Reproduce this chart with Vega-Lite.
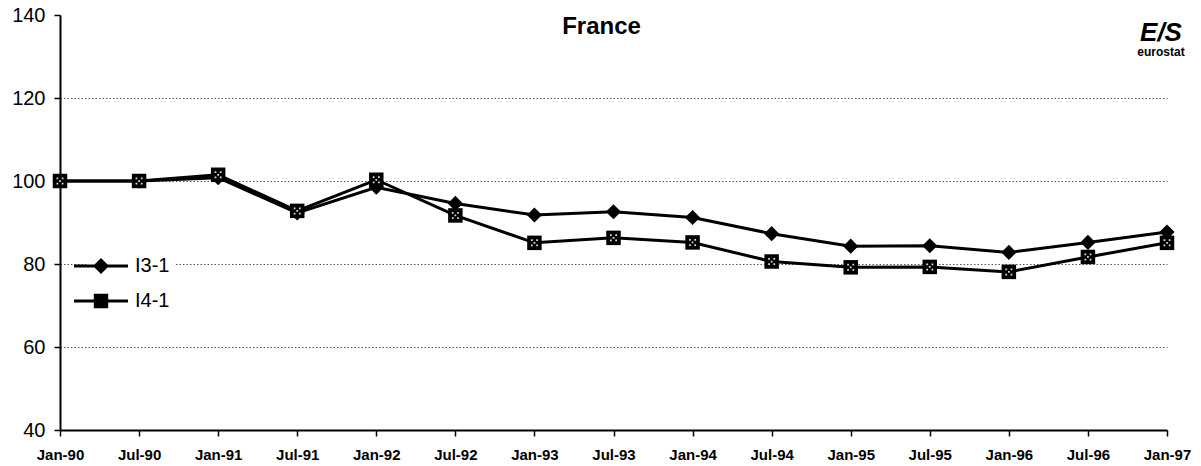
{
  "$schema": "https://vega.github.io/schema/vega-lite/v6.json",
  "autosize": {"type": "none"},
  "padding": {"left": 60, "top": 15, "right": 34, "bottom": 36},
  "width": 1107,
  "height": 415,
  "background": "white",
  "title": {
    "text": "France",
    "font": "Liberation Sans",
    "fontSize": 24,
    "fontWeight": "bold",
    "color": "black",
    "anchor": "middle",
    "baseline": "middle",
    "dx": -12,
    "offset": -14,
    "dy": 32
  },
  "config": {
    "view": {"stroke": null},
    "font": "Liberation Sans"
  },
  "data": {
    "values": [
      {"period": "Jan-90", "series": "I3-1", "value": 100},
      {"period": "Jul-90", "series": "I3-1", "value": 100},
      {"period": "Jan-91", "series": "I3-1", "value": 100.8},
      {"period": "Jul-91", "series": "I3-1", "value": 92.3},
      {"period": "Jan-92", "series": "I3-1", "value": 98.5},
      {"period": "Jul-92", "series": "I3-1", "value": 94.6},
      {"period": "Jan-93", "series": "I3-1", "value": 91.8},
      {"period": "Jul-93", "series": "I3-1", "value": 92.6},
      {"period": "Jan-94", "series": "I3-1", "value": 91.2},
      {"period": "Jul-94", "series": "I3-1", "value": 87.3},
      {"period": "Jan-95", "series": "I3-1", "value": 84.3},
      {"period": "Jul-95", "series": "I3-1", "value": 84.4},
      {"period": "Jan-96", "series": "I3-1", "value": 82.8},
      {"period": "Jul-96", "series": "I3-1", "value": 85.2},
      {"period": "Jan-97", "series": "I3-1", "value": 87.7},
      {"period": "Jan-90", "series": "I4-1", "value": 100},
      {"period": "Jul-90", "series": "I4-1", "value": 100},
      {"period": "Jan-91", "series": "I4-1", "value": 101.5},
      {"period": "Jul-91", "series": "I4-1", "value": 92.8},
      {"period": "Jan-92", "series": "I4-1", "value": 100.3},
      {"period": "Jul-92", "series": "I4-1", "value": 91.7},
      {"period": "Jan-93", "series": "I4-1", "value": 85.1},
      {"period": "Jul-93", "series": "I4-1", "value": 86.3},
      {"period": "Jan-94", "series": "I4-1", "value": 85.2},
      {"period": "Jul-94", "series": "I4-1", "value": 80.6},
      {"period": "Jan-95", "series": "I4-1", "value": 79.2},
      {"period": "Jul-95", "series": "I4-1", "value": 79.3},
      {"period": "Jan-96", "series": "I4-1", "value": 78.1},
      {"period": "Jul-96", "series": "I4-1", "value": 81.7},
      {"period": "Jan-97", "series": "I4-1", "value": 85.1}
    ]
  },
  "encoding": {
    "x": {
      "field": "period",
      "type": "ordinal",
      "sort": null,
      "scale": {"type": "point", "padding": 0},
      "axis": {
        "title": null,
        "labelAngle": 0,
        "labelFont": "Liberation Sans",
        "labelFontSize": 15,
        "labelFontWeight": "bold",
        "labelColor": "black",
        "labelPadding": 11,
        "domainColor": "black",
        "domainWidth": 2,
        "tickColor": "black",
        "tickWidth": 1.5,
        "tickSize": 6,
        "grid": false
      }
    },
    "y": {
      "field": "value",
      "type": "quantitative",
      "scale": {"domain": [40, 140], "nice": false, "zero": false},
      "axis": {
        "title": null,
        "values": [40, 60, 80, 100, 120, 140],
        "labelFont": "Liberation Sans",
        "labelFontSize": 20,
        "labelColor": "black",
        "labelPadding": 9,
        "domainColor": "black",
        "domainWidth": 2,
        "tickColor": "black",
        "tickWidth": 1.5,
        "tickSize": 6,
        "grid": true,
        "gridColor": "#555",
        "gridDash": [1.5, 2],
        "gridWidth": 1,
        "gridOpacity": {"condition": {"test": "datum.value >= 140 || datum.value <= 40", "value": 0}, "value": 1}
      }
    }
  },
  "layer": [
    {
      "mark": {"type": "line", "strokeWidth": 3},
      "encoding": {
        "detail": {"field": "series"},
        "color": {"value": "black"}
      }
    },
    {
      "mark": {"type": "point", "filled": true, "color": "black", "opacity": 0},
      "encoding": {
        "shape": {
          "field": "series",
          "type": "nominal",
          "scale": {
            "domain": ["I3-1", "I4-1"],
            "range": ["M-2.7,-0.15H2.7V0.15H-2.7ZM0,-0.8L0.8,0L0,0.8L-0.8,0Z", "M-2.7,-0.15H2.7V0.15H-2.7ZM-0.72,-0.72H0.72V0.72H-0.72Z"]
          },
          "legend": {
            "orient": "none",
            "legendX": 26,
            "legendY": 236,
            "title": null,
            "padding": 4,
            "fillColor": "white",
            "strokeColor": null,
            "symbolSize": 400,
            "rowPadding": 13,
            "labelOffset": 23,
            "labelFont": "Liberation Sans",
            "labelFontSize": 20,
            "labelColor": "black",
            "symbolFillColor": "black",
            "symbolOpacity": 1
          }
        }
      }
    },
    {
      "transform": [{"filter": "datum.series === 'I3-1'"}],
      "mark": {"type": "point", "filled": true, "color": "black", "opacity": 1, "shape": "diamond", "size": 230}
    },
    {
      "transform": [{"filter": "datum.series === 'I4-1'"}],
      "mark": {"type": "point", "filled": true, "color": "black", "opacity": 1, "shape": "square", "size": 210}
    },
    {
      "transform": [{"filter": "datum.series === 'I4-1'"}],
      "mark": {
        "type": "point",
        "filled": true,
        "color": "white",
        "opacity": 0.85,
        "size": 100,
        "shape": "M-0.7,-0.7h0.35v0.35h-0.35ZM0.35,-0.7h0.35v0.35h-0.35ZM-0.7,0.35h0.35v0.35h-0.35ZM0.35,0.35h0.35v0.35h-0.35ZM-0.17,-0.17h0.35v0.35h-0.35Z"
      }
    },
    {
      "data": {"values": [{"logo": "E/S", "period": "Jan-97", "value": 133.8}]},
      "mark": {"type": "text", "font": "Liberation Sans", "fontSize": 26, "fontWeight": "bold", "fontStyle": "italic", "dx": -6, "baseline": "alphabetic", "color": "black"},
      "encoding": {"text": {"field": "logo"}}
    },
    {
      "data": {"values": [{"logo": "eurostat", "period": "Jan-97", "value": 132.3}]},
      "mark": {"type": "text", "font": "Liberation Sans", "fontSize": 12, "fontWeight": "bold", "dx": -6, "baseline": "top", "color": "black"},
      "encoding": {"text": {"field": "logo"}}
    }
  ]
}
